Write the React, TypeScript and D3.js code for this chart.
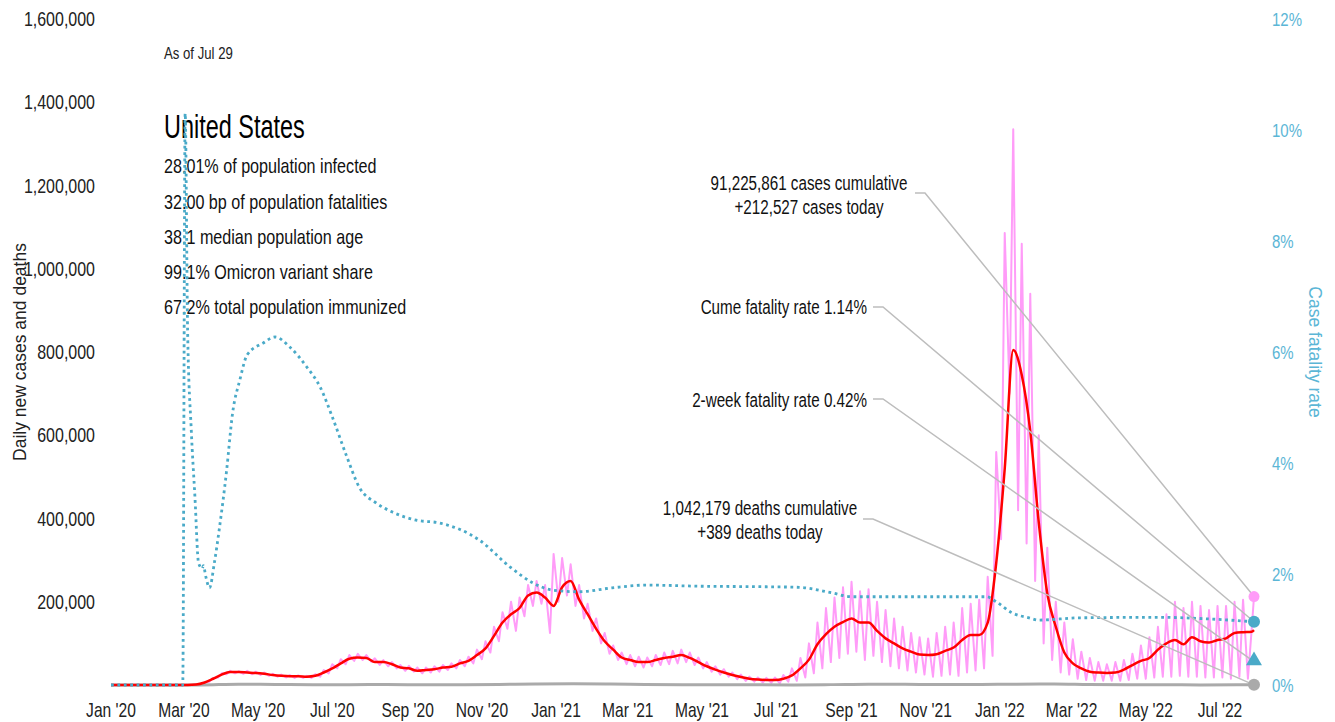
import * as React from "react"
import * as d3 from "d3"

const startDate = "2020-01-01"
const endDate = "2022-07-29"

// daily new cases, 7-day average (thousands), one value per week starting Jan 1 2020
const weeklyAvgCases = [
  0, 0, 0, 0, 0, 0, 0, 0, 0, 0,
  1, 6, 15, 25, 31, 31, 30, 29, 27, 24,
  22, 21, 21, 20, 22, 30, 40, 52, 63, 66,
  65, 55, 55, 50, 42, 40, 34, 36, 38, 42,
  44, 52, 58, 72, 88, 118, 150, 170, 185, 215,
  222, 210, 190, 235, 250, 205, 170, 135, 105, 85,
  66, 60, 55, 55, 60, 65, 68, 72, 65, 55,
  45, 37, 30, 24, 19, 15, 13, 12, 12, 15,
  23, 40, 61, 98, 122, 140, 151, 160, 150, 150,
  130, 112, 100, 88, 80, 73, 72, 74, 82, 90,
  108, 120, 120, 150, 293, 520, 805, 745, 610, 390,
  220, 140, 78, 52, 40, 32, 30, 29, 30, 37,
  48, 58, 65, 85, 100, 108, 98, 115, 105, 102,
  108, 112, 125, 127, 128,
]
const avgTodayK = 132

// daily reported cases (thousands): weekly high (week start) and weekend low (+4 days)
const weeklyHighCases = [
  0, 0, 0, 0, 0, 0, 0, 0, 0, 0,
  1, 6, 17, 28, 34, 33, 34, 32, 30, 27,
  25, 24, 23, 22, 26, 36, 50, 62, 72, 75,
  72, 64, 60, 55, 48, 46, 42, 42, 45, 48,
  52, 60, 68, 85, 105, 140, 175, 200, 210, 240,
  250, 240, 315, 305, 290, 240, 195, 160, 125, 95,
  78, 72, 68, 66, 72, 78, 82, 85, 78, 66,
  55, 45, 38, 30, 25, 20, 18, 17, 18, 24,
  40, 65, 100, 150, 185, 210, 235, 248, 225, 230,
  200, 180, 160, 140, 125, 115, 112, 125, 140, 150,
  185, 195, 205, 260, 560, 1086, 1335, 1060, 940, 600,
  330, 200, 150, 110, 80, 65, 55, 50, 55, 60,
  75, 95, 115, 140, 170, 200, 185, 200, 190, 180,
  190, 190, 200, 205, 130,
]
const weeklyLowCases = [
  0, 0, 0, 0, 0, 0, 0, 0, 0, 0,
  2, 8, 18, 26, 28, 27, 26, 24, 22, 20,
  18, 17, 17, 17, 20, 28, 40, 50, 58, 60,
  56, 48, 45, 40, 34, 32, 28, 30, 32, 36,
  40, 45, 52, 62, 78, 105, 135, 130, 165, 190,
  195, 125, 200, 215, 190, 160, 130, 100, 75, 60,
  50, 45, 42, 45, 48, 50, 52, 55, 48, 40,
  32, 25, 20, 14, 10, 8, 6, 5, 4, 8,
  10, 18, 28, 40, 55, 65, 75, 80, 60, 70,
  55, 45, 40, 35, 30, 25, 20, 22, 25, 22,
  30, 35, 40, 70, 350, 700, 420, 340, 250, 100,
  60, 30, 25, 15, 12, 10, 10, 10, 10, 12,
  15, 15, 18, 20, 20, 22, 20, 20, 18, 18,
  18, 15, 20, 15,
]
const casesTodayK = 212.527

// daily deaths, 7-day average (thousands), mid-month
const deathMonths = [
  "2020-01-01", "2020-02-15", "2020-03-15", "2020-04-15", "2020-05-15", "2020-06-15",
  "2020-07-15", "2020-08-15", "2020-09-15", "2020-10-15", "2020-11-15", "2020-12-15",
  "2021-01-15", "2021-02-15", "2021-03-15", "2021-04-15", "2021-05-15", "2021-06-15",
  "2021-07-15", "2021-08-15", "2021-09-15", "2021-10-15", "2021-11-15", "2021-12-15",
  "2022-01-15", "2022-02-15", "2022-03-15", "2022-04-15", "2022-05-15", "2022-06-15",
  "2022-07-15", "2022-07-29",
]
const deathsDailyK = [
  0, 0, 0.2, 1.9, 1.4, 0.7, 0.8, 1.0, 0.8, 0.75, 1.2, 2.5,
  3.2, 2.4, 1.2, 0.7, 0.6, 0.35, 0.3, 0.9, 1.9, 1.6, 1.1, 1.3,
  2.1, 2.3, 1.1, 0.5, 0.32, 0.3, 0.4, 0.389,
]

// cumulative case fatality rate (%)
const cfrDates = [
  "2020-01-01", "2020-02-29", "2020-03-02", "2020-03-04", "2020-03-07", "2020-03-10",
  "2020-03-13", "2020-03-16", "2020-03-17", "2020-03-19", "2020-03-22", "2020-03-26",
  "2020-03-30", "2020-04-05", "2020-04-10", "2020-04-16", "2020-04-22", "2020-05-05",
  "2020-05-15", "2020-05-27", "2020-06-10", "2020-06-21", "2020-07-01", "2020-07-13",
  "2020-07-23", "2020-08-06", "2020-08-19", "2020-09-08", "2020-09-27", "2020-10-30",
  "2020-11-24", "2020-12-13", "2020-12-29", "2021-01-20", "2021-02-16", "2021-03-16",
  "2021-04-29", "2021-06-23", "2021-07-20", "2021-08-16", "2021-09-01", "2021-10-10",
  "2021-12-21", "2021-12-29", "2022-01-11", "2022-01-25", "2022-02-02", "2022-03-07",
  "2022-05-12", "2022-06-22", "2022-07-29",
]
const cfrPct = [
  0, 0, 10.3, 6.4, 4.6, 3.4,
  2.2, 2.1, 2.15, 1.95, 1.75, 2.2,
  2.8, 3.85, 4.9, 5.5, 5.95, 6.16,
  6.27, 6.09, 5.73, 5.37, 4.83, 4.11,
  3.57, 3.28, 3.12, 2.97, 2.92, 2.61,
  2.13, 1.84, 1.71, 1.68, 1.75, 1.8,
  1.78, 1.77, 1.76, 1.66, 1.59, 1.59,
  1.59, 1.5, 1.3, 1.21, 1.17, 1.21,
  1.22, 1.19, 1.14,
]
const cumeCfr = 1.14
const twoWeekCfr = 0.42

const leftTicks = [200000, 400000, 600000, 800000, 1000000, 1200000, 1400000, 1600000]
const rightTicks = [0, 2, 4, 6, 8, 10, 12]

const title = "United States"
const asOf = "As of Jul 29"
const stats = [
  "28.01% of population infected",
  "32.00 bp of population fatalities",
  "38.1 median population age",
  "99.1% Omicron variant share",
  "67.2% total population immunized",
]

const FONT = "'Liberation Sans', Arial, sans-serif"
const SX = 0.78 // squeeze to mimic the condensed face
const PINK = "#ff9cf8"
const RED = "#ff0000"
const TEAL = "#4aaac8"
const TEAL_TEXT = "#5bb6d6"
const GRAY = "#aaaaaa"
const LEADER = "#bdbdbd"

type Pt = { d: Date; v: number }

function label(
  g: d3.Selection<SVGGElement, unknown, null, undefined>,
  x: number,
  y: number,
  s: string,
  size: number,
  anchor = "start",
  fill = "#111",
  sx = SX,
  rotate = 0
) {
  g.append("text")
    .attr("transform", `translate(${x},${y})${rotate ? ` rotate(${rotate})` : ""} scale(${sx},1)`)
    .attr("text-anchor", anchor)
    .attr("dominant-baseline", "central")
    .attr("font-size", size)
    .attr("fill", fill)
    .text(s)
}

function render(svgRef: React.RefObject<SVGSVGElement>) {
  const width = 1335
  const height = 722
  const parse = d3.utcParse("%Y-%m-%d")
  const t0 = parse(startDate) as Date
  const t1 = parse(endDate) as Date
  const day = 864e5

  const svg = d3.select(svgRef.current).attr("width", width).attr("height", height)
  svg.selectAll("*").remove()
  const g = svg.append("g").style("font-family", FONT)

  const x = d3.scaleUtc().domain([t0, t1]).range([111, 1254])
  const yL = d3.scaleLinear().domain([0, 1600000]).range([685, 19])
  const yR = d3.scaleLinear().domain([0, 12]).range([685, 19])

  // series
  const daily: Pt[] = []
  weeklyHighCases.forEach((v, i) => daily.push({ d: new Date(+t0 + i * 7 * day), v: v * 1000 }))
  weeklyLowCases.forEach((v, i) => daily.push({ d: new Date(+t0 + (i * 7 + 4) * day), v: v * 1000 }))
  daily.push({ d: t1, v: casesTodayK * 1000 })
  daily.sort((a, b) => +a.d - +b.d)

  const avg: Pt[] = weeklyAvgCases.map((v, i) => ({ d: new Date(+t0 + i * 7 * day), v: v * 1000 }))
  avg.push({ d: t1, v: avgTodayK * 1000 })

  const deaths: Pt[] = deathMonths.map((s, i) => ({ d: parse(s) as Date, v: deathsDailyK[i] * 1000 }))
  const cfr: Pt[] = cfrDates.map((s, i) => ({ d: parse(s) as Date, v: cfrPct[i] }))

  const lineL = d3
    .line<Pt>()
    .x((p) => x(p.d))
    .y((p) => yL(p.v))
  const smoothL = d3
    .line<Pt>()
    .x((p) => x(p.d))
    .y((p) => yL(p.v))
    .curve(d3.curveMonotoneX)
  const lineR = d3
    .line<Pt>()
    .x((p) => x(p.d))
    .y((p) => yR(p.v))
    .curve(d3.curveMonotoneX)

  // tick labels
  leftTicks.forEach((d) => label(g, 95, yL(d), d3.format(",")(d), 20.5, "end", "#222"))
  rightTicks.forEach((d) => label(g, 1272, yR(d), `${d}%`, 19.2, "start", TEAL_TEXT))
  const months = d3.utcMonth.every(2)!.range(t0, t1)
  months.forEach((d) => label(g, x(d), 710, d3.utcFormat("%b '%y")(d), 20, "middle", "#222"))

  // axis titles
  label(g, 20, 352, "Daily new cases and deaths", 17.5, "middle", "#222", 1, -90)
  label(g, 1315, 352, "Case fatality rate", 17.5, "middle", TEAL_TEXT, 1, 90)

  // header block
  label(g, 164, 53, asOf, 16.9, "start", "#222")
  label(g, 164, 126, title, 33.5, "start", "#000", 0.7)
  stats.forEach((s, i) => label(g, 164, 166 + i * 35.3, s, 20.7, "start", "#111"))

  // data lines
  g.append("path")
    .datum(daily)
    .attr("d", lineL)
    .attr("fill", "none")
    .attr("stroke", PINK)
    .attr("stroke-width", 2)
    .attr("stroke-linejoin", "round")

  g.append("path")
    .datum(deaths)
    .attr("d", smoothL)
    .attr("fill", "none")
    .attr("stroke", GRAY)
    .attr("stroke-width", 3)

  g.append("path")
    .datum(avg)
    .attr("d", smoothL)
    .attr("fill", "none")
    .attr("stroke", RED)
    .attr("stroke-width", 2.5)

  g.append("path")
    .datum(cfr)
    .attr("d", lineR)
    .attr("fill", "none")
    .attr("stroke", TEAL)
    .attr("stroke-width", 2.8)
    .attr("stroke-dasharray", "2.8 3.6")

  // annotations with leader lines
  const xe = x(t1)
  const notes = [
    { lines: ["91,225,861 cases cumulative", "+212,527 cases today"], tx: 809, ty: 183, anchor: "middle", lx: 915, ly: 193, ty2: yL(casesTodayK * 1000) },
    { lines: ["Cume fatality rate 1.14%"], tx: 867, ty: 307, anchor: "end", lx: 873, ly: 307, ty2: yR(cumeCfr) },
    { lines: ["2-week fatality rate 0.42%"], tx: 867, ty: 400, anchor: "end", lx: 873, ly: 399, ty2: yR(twoWeekCfr) },
    { lines: ["1,042,179 deaths cumulative", "+389 deaths today"], tx: 760, ty: 508, anchor: "middle", lx: 863, ly: 519, ty2: yL(deathsDailyK[deathsDailyK.length - 1] * 1000) },
  ]

  g.selectAll(".leader")
    .data(notes)
    .join("path")
    .attr("class", "leader")
    .attr("d", (n) => `M${n.lx},${n.ly}H${n.lx + 10}L${xe},${n.ty2}`)
    .attr("fill", "none")
    .attr("stroke", LEADER)
    .attr("stroke-width", 1.5)

  notes.forEach((n) => {
    n.lines.forEach((s, i) => label(g, n.tx, n.ty + i * 24, s, 19.5, n.anchor, "#111"))
  })

  // end markers
  g.append("circle").attr("cx", xe).attr("cy", yL(casesTodayK * 1000)).attr("r", 5.5).attr("fill", PINK)
  g.append("circle").attr("cx", xe).attr("cy", yR(cumeCfr)).attr("r", 6).attr("fill", TEAL)
  g.append("path")
    .attr("d", d3.symbol(d3.symbolTriangle, 110)())
    .attr("transform", `translate(${xe},${yR(twoWeekCfr) - 1})`)
    .attr("fill", TEAL)
  g.append("circle")
    .attr("cx", xe)
    .attr("cy", yL(deathsDailyK[deathsDailyK.length - 1] * 1000))
    .attr("r", 6)
    .attr("fill", GRAY)
}

export default function App(): React.JSX.Element {
  const svg = React.useRef<SVGSVGElement>(null)

  React.useEffect(() => {
    document.body.style.margin = "0"
    render(svg)
  }, [])

  return (
    <div style={{ width: 1335, height: 722, background: "#fff" }}>
      <svg ref={svg}></svg>
    </div>
  )
}
